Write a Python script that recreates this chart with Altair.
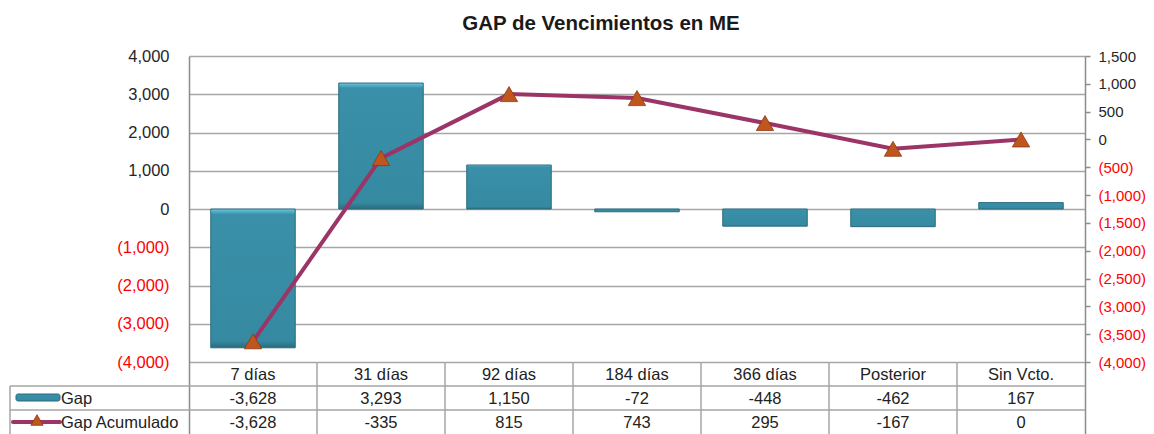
import altair as alt
import pandas as pd

# ---------------- data ----------------
categories = ["7 días", "31 días", "92 días", "184 días", "366 días", "Posterior", "Sin Vcto."]
gap = [-3628, 3293, 1150, -72, -448, -462, 167]
gap_acum = [-3628, -335, 815, 743, 295, -167, 0]
left_ticks = list(range(-4000, 4001, 1000))
right_ticks = list(range(-4000, 1501, 500))
title_text = "GAP de Vencimientos en ME"
legend_gap = "Gap"
legend_acum = "Gap Acumulado"

df = pd.DataFrame({
    "cat": categories,
    "gap": gap,
    "acum": gap_acum,
    "gap_txt": [f"{v:,}" for v in gap],
    "acum_txt": [f"{v:,}" for v in gap_acum],
})
one = pd.DataFrame({"k": [0]})

# ---------------- layout ----------------
W = 896
H = 378
AX_BOTTOM = 306          # pixel of the lowest axis value inside the view
ROW1, ROW2, ROW3 = 330, 354, 378
LEFT_EDGE = -179
FONT = "Liberation Sans"
GRID = "#A6A6A6"
AXC = "#8C8C8C"
TEAL_DARK = "#2A6B7E"
PURPLE = "#9B3467"
TRI = "#C0561E"
TRI_DARK = "#8A3A12"
TXT = "#222222"

left_lo = 4000 - 8000 * H / AX_BOTTOM
right_lo = 1500 - 5500 * H / AX_BOTTOM

label_expr = "datum.value < 0 ? '(' + format(-datum.value, ',') + ')' : format(datum.value, ',')"
label_color = {"condition": {"test": "datum.value < 0", "value": "#FF0000"}, "value": "#262626"}

xscale = alt.Scale(domain=categories, paddingInner=0, paddingOuter=0)
x_enc = alt.X("cat:N", sort=categories, scale=xscale, axis=None)

left_axis = alt.Axis(orient="left", values=left_ticks, grid=True, gridColor=GRID, gridWidth=1.5,
                     tickSize=0, domainColor=AXC, domainWidth=1.5, labelPadding=20,
                     labelFontSize=16.5, labelFont=FONT, labelColor=label_color,
                     labelExpr=label_expr, labelOverlap=False, title=None)
right_axis = alt.Axis(orient="right", values=right_ticks, grid=False, tickSize=5,
                      tickColor=AXC, tickWidth=1.5, domainColor=AXC, domainWidth=1.5,
                      labelPadding=8, labelFontSize=15, labelFont=FONT, labelColor=label_color,
                      labelExpr=label_expr, labelOverlap=False, title=None)

bar_fill = alt.Gradient(
    gradient="linear", x1=0, x2=0, y1=0, y2=1,
    stops=[alt.GradientStop(offset=0, color="#6CC7E2"),
           alt.GradientStop(offset=0.04, color="#3A90A8"),
           alt.GradientStop(offset=0.95, color="#358AA2"),
           alt.GradientStop(offset=1, color="#2A6B7E")],
)

bars = alt.Chart(df).mark_bar(width=alt.RelativeBandSize(0.66), fill=bar_fill, stroke=TEAL_DARK,
                              strokeWidth=1).encode(
    x=x_enc,
    y=alt.Y("gap:Q", scale=alt.Scale(domain=[left_lo, 4000], nice=False), axis=left_axis),
    y2=alt.datum(0),
)

y_right = alt.Y("acum:Q", scale=alt.Scale(domain=[right_lo, 1500], nice=False, zero=False),
                axis=right_axis)
line = alt.Chart(df).mark_line(color=PURPLE, strokeWidth=4).encode(x=x_enc, y=y_right)
pts = alt.Chart(df).mark_point(shape="triangle-up", filled=True, size=300, fill=TRI,
                               stroke=TRI_DARK, strokeWidth=0.8, opacity=1).encode(x=x_enc, y=y_right)
line_layer = alt.layer(line, pts)

# ---------------- data table ----------------
vsep = alt.Chart(df.iloc[1:]).mark_rule(color=GRID, strokeWidth=1.5).encode(
    x=alt.X("cat:N", sort=categories, scale=xscale, axis=None, bandPosition=0),
    y=alt.value(AX_BOTTOM), y2=alt.value(H))
hrule1 = alt.Chart(one).mark_rule(color=GRID, strokeWidth=1.5).encode(
    x=alt.value(LEFT_EDGE), x2=alt.value(W), y=alt.value(ROW1))
hrule2 = alt.Chart(one).mark_rule(color=GRID, strokeWidth=1.5).encode(
    x=alt.value(LEFT_EDGE), x2=alt.value(W), y=alt.value(ROW2))
lborder = alt.Chart(one).mark_rule(color=GRID, strokeWidth=1.5).encode(
    x=alt.value(LEFT_EDGE), y=alt.value(ROW1), y2=alt.value(H))

txt_kw = dict(font=FONT, fontSize=16.5, color=TXT, baseline="middle")
hdr = alt.Chart(df).mark_text(**txt_kw).encode(x=x_enc, y=alt.value((AX_BOTTOM + ROW1) / 2 + 1), text="cat:N")
row_gap = alt.Chart(df).mark_text(**txt_kw).encode(x=x_enc, y=alt.value((ROW1 + ROW2) / 2 + 1), text="gap_txt:N")
row_acum = alt.Chart(df).mark_text(**txt_kw).encode(x=x_enc, y=alt.value((ROW2 + ROW3) / 2 + 1), text="acum_txt:N")

sw_gap = alt.Chart(one).mark_rect(fill=bar_fill, stroke=TEAL_DARK, strokeWidth=1, cornerRadius=2).encode(
    x=alt.value(-173), x2=alt.value(-129), y=alt.value(338), y2=alt.value(345))
sw_line = alt.Chart(one).mark_rule(color=PURPLE, strokeWidth=4, strokeCap="round").encode(
    x=alt.value(-176), x2=alt.value(-129), y=alt.value(366))
sw_tri = alt.Chart(one).mark_point(shape="triangle-up", filled=True, size=150, fill=TRI,
                                   stroke=TRI_DARK, strokeWidth=0.8, opacity=1).encode(
    x=alt.value(-152), y=alt.value(364))
lab_gap = alt.Chart(one).mark_text(align="left", **txt_kw).encode(
    x=alt.value(-128), y=alt.value((ROW1 + ROW2) / 2 + 1), text=alt.value(legend_gap))
lab_acum = alt.Chart(one).mark_text(align="left", **txt_kw).encode(
    x=alt.value(-128), y=alt.value((ROW2 + ROW3) / 2 + 1), text=alt.value(legend_acum))

title = alt.Chart(one).mark_text(font=FONT, fontSize=20.5, fontWeight="bold", color="#1A1A1A",
                                 align="center", baseline="alphabetic").encode(
    x=alt.value(412), y=alt.value(-26), text=alt.value(title_text))

chart = alt.layer(
    bars, line_layer,
    vsep, hrule1, hrule2, lborder,
    hdr, row_gap, row_acum,
    sw_gap, sw_line, sw_tri, lab_gap, lab_acum,
    title,
).resolve_scale(y="independent").properties(
    width=W, height=H,
    padding={"left": 181, "top": 48, "right": 61, "bottom": 0},
    autosize=alt.AutoSizeParams(type="none"),
).configure_view(stroke=None)

chart.save("out.html", embed_options={"renderer": "svg", "actions": False})
